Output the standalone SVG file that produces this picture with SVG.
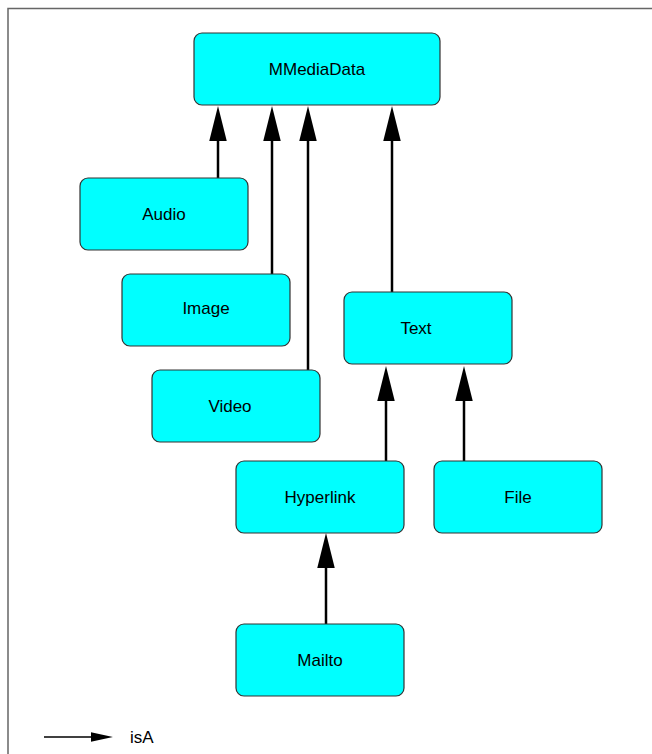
<svg xmlns="http://www.w3.org/2000/svg" width="652" height="754" viewBox="0 0 652 754">
<defs>
<style>
.node rect{fill:#00ffff;stroke:#333;stroke-width:1.2}
.node text{font-family:"Liberation Sans",Arial,sans-serif;font-size:17px;fill:#000;text-anchor:middle}
.edge{stroke:#000;stroke-width:2.5;fill:none;marker-end:url(#isa)}
.frame{stroke:#666;stroke-width:1.5;fill:none}
</style>
<marker id="isa" markerUnits="userSpaceOnUse" markerWidth="35" markerHeight="18" viewBox="0 0 34 17" refX="4" refY="8.5" orient="auto">
<path d="M0,0 L34,8.5 L0,17 Z" fill="#000"/>
</marker>
<marker id="isaSmall" markerUnits="userSpaceOnUse" markerWidth="22" markerHeight="10" viewBox="0 0 21 9" refX="1" refY="4.5" orient="auto">
<path d="M0,0 L21,4.5 L0,9 Z" fill="#000"/>
</marker>
</defs>
<rect x="0" y="0" width="652" height="754" fill="#fff"/>
<path class="frame" d="M8,754 L8,8.5 L652,8.5"/>
<g id="connectors">
<line class="edge" x1="218" y1="178" x2="218" y2="137"/>
<line class="edge" x1="272" y1="274" x2="272" y2="137"/>
<line class="edge" x1="308" y1="370" x2="308" y2="137"/>
<line class="edge" x1="392" y1="292" x2="392" y2="137"/>
<line class="edge" x1="386" y1="461" x2="386" y2="397"/>
<line class="edge" x1="464" y1="461" x2="464" y2="397"/>
<line class="edge" x1="326" y1="624" x2="326" y2="564"/>
</g>
<g id="MMediaData" class="node"><rect x="194" y="33" width="246" height="72" rx="8"/><text x="317" y="75">MMediaData</text></g>
<g id="Audio" class="node"><rect x="80" y="178" width="168" height="72" rx="8"/><text x="164" y="220">Audio</text></g>
<g id="Image" class="node"><rect x="122" y="274" width="168" height="72" rx="8"/><text x="206" y="314">Image</text></g>
<g id="Text" class="node"><rect x="344" y="292" width="168" height="72" rx="8"/><text x="416" y="334">Text</text></g>
<g id="Video" class="node"><rect x="152" y="370" width="168" height="72" rx="8"/><text x="230" y="412">Video</text></g>
<g id="Hyperlink" class="node"><rect x="236" y="461" width="168" height="72" rx="8"/><text x="320" y="503">Hyperlink</text></g>
<g id="File" class="node"><rect x="434" y="461" width="168" height="72" rx="8"/><text x="518" y="503">File</text></g>
<g id="Mailto" class="node"><rect x="236" y="624" width="168" height="72" rx="8"/><text x="320" y="666">Mailto</text></g>
<g id="legend">
<line x1="44" y1="737" x2="92" y2="737" stroke="#000" stroke-width="1.5" marker-end="url(#isaSmall)"/>
<text x="130" y="743" font-family="'Liberation Sans',Arial,sans-serif" font-size="17px">isA</text>
</g>
</svg>
